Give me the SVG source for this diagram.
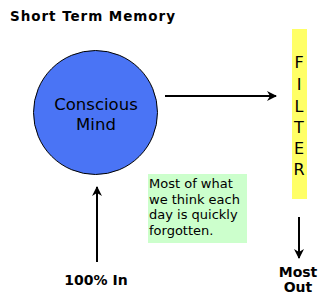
<svg xmlns="http://www.w3.org/2000/svg" width="323" height="307" viewBox="0 0 323 307">
<style>
text{font-family:"DejaVu Sans",Verdana,sans-serif;fill:#000}
.b{font-weight:bold}
.c{stroke:#000;stroke-width:2;fill:none}
</style>
<defs>
<marker id="ah" viewBox="0 0 10 10" refX="9" refY="5" markerWidth="5" markerHeight="5" orient="auto" markerUnits="strokeWidth">
<path d="M0,0 L10,5 L0,10 L3,5 Z" fill="#000"/>
</marker>
</defs>
<rect width="323" height="307" fill="#fff"/>
<g id="title"><text class="b" x="10" y="21" font-size="13.5" textLength="165" lengthAdjust="spacing">Short Term Memory</text></g>
<g id="mind">
<circle cx="95.5" cy="112.5" r="62" fill="#4a74f5" stroke="#000" stroke-width="1"/>
<text x="96" y="110" font-size="16.5" text-anchor="middle">Conscious</text>
<text x="96" y="130" font-size="16.5" text-anchor="middle">Mind</text>
</g>
<g id="filter">
<rect x="292" y="29" width="15" height="170" fill="#ffff66"/>
<g font-size="16" text-anchor="middle">
<text x="299" y="68">F</text>
<text x="299" y="90">I</text>
<text x="299" y="112">L</text>
<text x="299" y="133">T</text>
<text x="299" y="154">E</text>
<text x="299" y="175">R</text>
</g>
</g>
<g id="note">
<rect x="148" y="174" width="99" height="69" fill="#ccffcc"/>
<g font-size="13">
<text x="149" y="188">Most of what</text>
<text x="149" y="204">we think each</text>
<text x="149" y="219">day is quickly</text>
<text x="149" y="235">forgotten.</text>
</g>
</g>
<g id="in"><text class="b" x="96" y="285" font-size="14" text-anchor="middle">100% In</text></g>
<g id="out">
<text class="b" x="298" y="277" font-size="14" text-anchor="middle">Most</text>
<text class="b" x="298" y="292" font-size="14" text-anchor="middle">Out</text>
</g>
<g id="connectors">
<line class="c" x1="165" y1="96" x2="276" y2="96" marker-end="url(#ah)"/>
<line class="c" x1="97" y1="262" x2="97" y2="187" marker-end="url(#ah)"/>
<line class="c" x1="299" y1="217" x2="299" y2="258" marker-end="url(#ah)"/>
</g>
</svg>
